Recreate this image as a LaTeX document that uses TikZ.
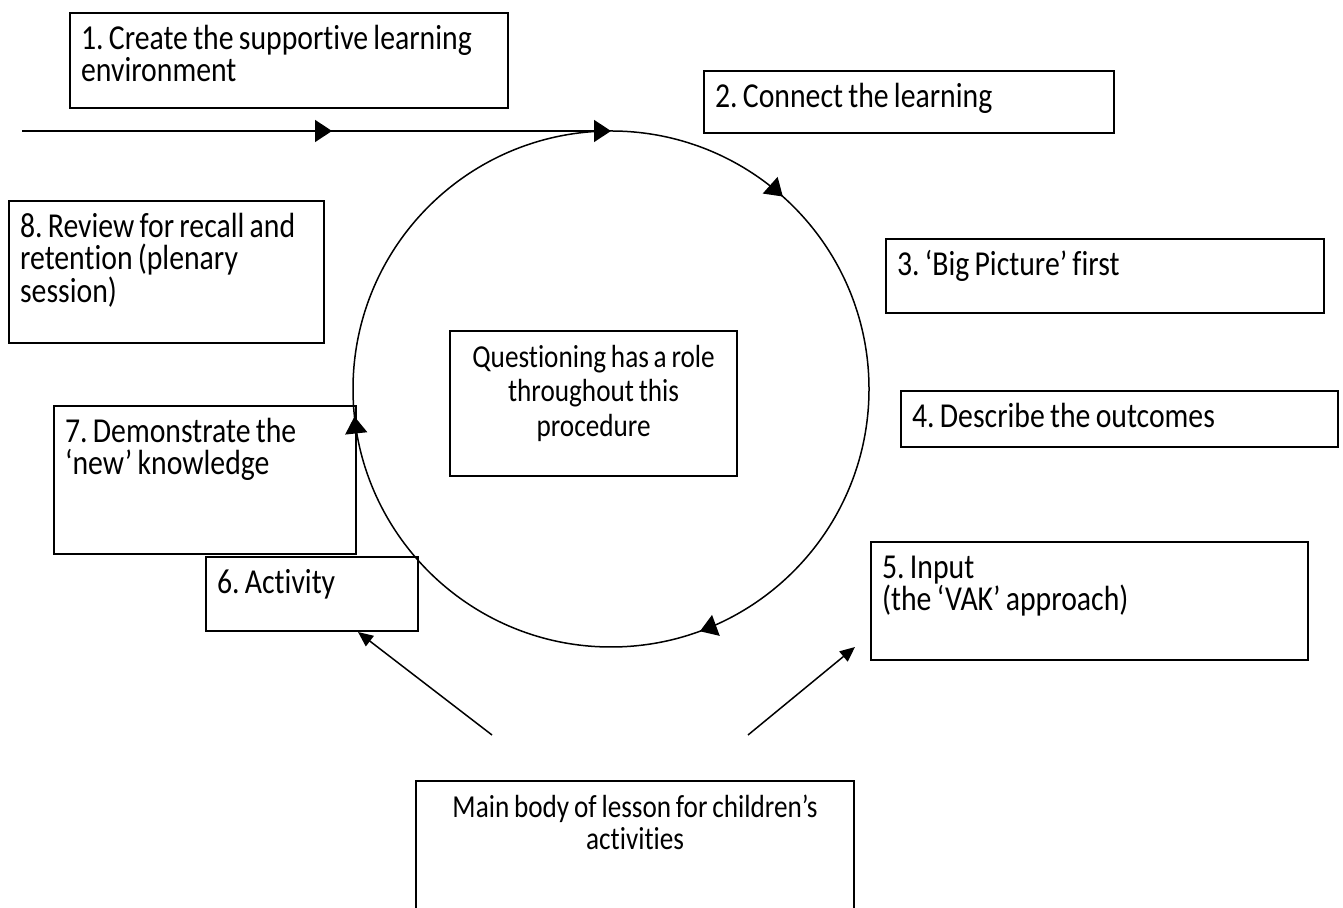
\documentclass[tikz,border=0pt]{standalone}
\usepackage{fontspec}
\setmainfont{Carlito}[FakeStretch=0.85, Ligatures=NoCommon]
\usetikzlibrary{arrows.meta, decorations.markings}
\frenchspacing
\newcommand{\tightwords}{\spaceskip=0.15em plus 0.05em minus 0.03em\relax}

\begin{document}
\begin{tikzpicture}[x=1pt, y=1pt, line width=1.5pt, font=\fontsize{35}{32.5}\selectfont\tightwords,
    >={Triangle[length=17pt, width=22pt]},
    stage/.style={draw, line width=2.2pt, anchor=north west, align=flush left, inner xsep=11pt, inner ysep=6pt, text height=30pt},
    centrebox/.style={stage, align=flush center, font=\fontsize{32}{34.5}\selectfont\tightwords},
    feed/.style={-{Triangle[length=15pt, width=13pt]}, line width=1.5pt}]
  \useasboundingbox (0,0) rectangle (1343,907);
  % the cycle
  \coordinate (hub) at (611,518);
  \coordinate (lead) at (22,776);
  \coordinate (ringtop) at (611,776);
  \draw[postaction=decorate, decoration={markings,
      mark=at position 0.134 with {\arrowreversed{>}},
      mark=at position 0.517 with {\arrowreversed{>}},
      mark=at position 0.806 with {\arrowreversed{>}}}] (hub) circle[radius=258];
  \draw[->, postaction=decorate, decoration={markings, mark=at position 310pt with {\arrow{>}}}] (lead) -- (ringtop);
  % stages
  \node[stage, text width=416pt, text depth=53pt] (create) at (69,895) {1. Create the supportive learning\\environment};
  \node[stage, text width=388pt, text depth=20pt] (connect) at (703,837) {2. Connect the learning};
  \node[stage, text width=416pt, text depth=32pt] (bigpic) at (885,669) {3. ‘Big Picture’ first};
  \node[stage, text width=415pt, text depth=14pt] (outcomes) at (900,517) {4. Describe the outcomes};
  \node[stage, text width=415pt, text depth=76pt] (input) at (870,366) {5. Input\\(the ‘VAK’ approach)};
  \node[stage, text width=190pt, text depth=32pt] (activity) at (205,351) {6. Activity};
  \node[stage, text width=280pt, text depth=106pt] (demo) at (53,502) {7. Demonstrate the\\‘new’ knowledge};
  \node[stage, text width=293pt, text depth=100pt] (review) at (8,707) {8. Review for recall and\\retention (plenary\\session)};
  \node[centrebox, text width=265pt, text depth=103pt] (question) at (449,577) {Questioning has a role\\throughout this\\procedure};
  \node[centrebox, font=\fontsize{32}{32.5}\selectfont\tightwords, text width=416pt, text depth=93pt] (mainbody) at (415,127) {Main body of lesson for children’s\\activities};
  % main body feeds
  \coordinate (m6) at (492,172);
  \coordinate (m5) at (748,172);
  \coordinate (t6) at (358,275);
  \coordinate (t5) at (855,260);
  \draw[feed] (m6) -- (t6);
  \draw[feed] (m5) -- (t5);
\end{tikzpicture}
\end{document}
